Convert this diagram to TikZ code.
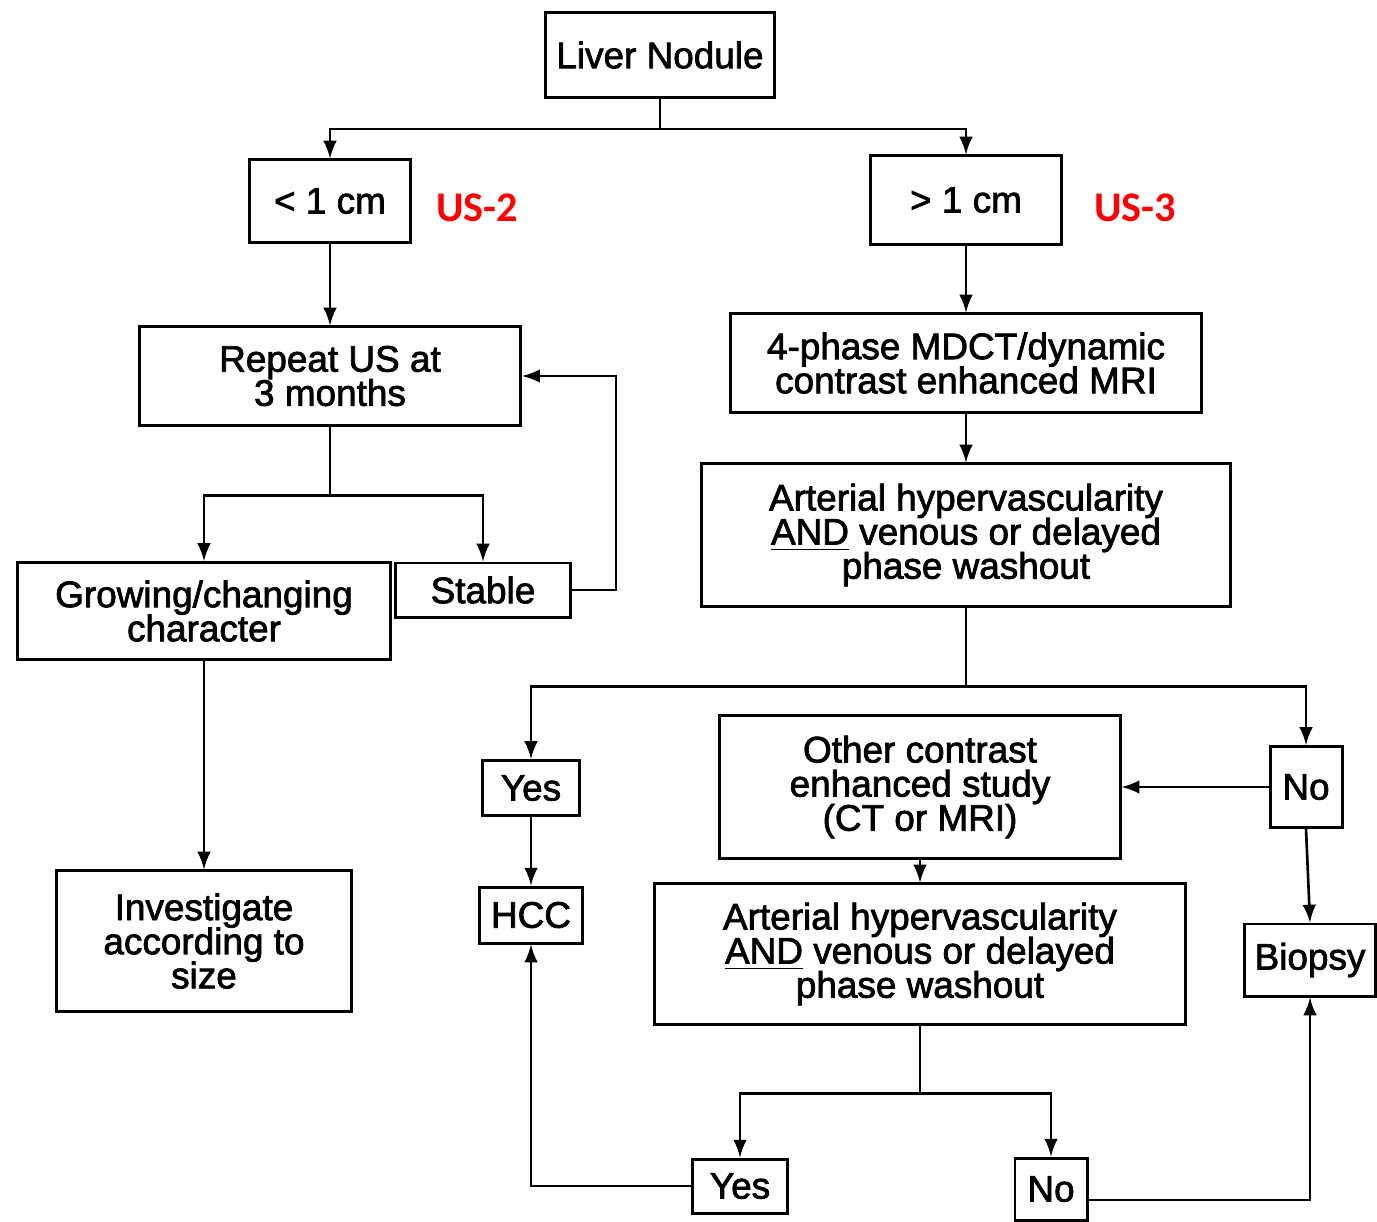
\documentclass[tikz,border=0pt]{standalone}
\usepackage{fontspec}
\setmainfont{Liberation Sans}
\newfontfamily\boxfont{Liberation Sans}[UprightFeatures={FakeBold=2}]
\newfontfamily\usfont{Carlito}
\usetikzlibrary{arrows}
\lineskiplimit=-5pt\relax

\begin{document}
\begin{tikzpicture}[x=0.01cm,y=-0.01cm,>=latex,line width=0.75pt,
  box/.style={draw,line width=0.85pt,align=center,inner sep=0pt,
    font={\boxfont\fontsize{10.5}{9.7}\selectfont}},
  uslabel/.style={text=red,font=\usfont\bfseries\fontsize{12}{14}\selectfont}]
\useasboundingbox (0,0) rectangle (1377,1221);
\node[box,minimum width=2.29cm,minimum height=0.85cm] (liver) at (660,55) {Liver Nodule};
\node[box,minimum width=1.60cm,minimum height=0.82cm] (small) at (330,201) {< 1 cm};
\node[box,minimum width=1.90cm,minimum height=0.88cm] (large) at (966,200) {> 1 cm};
\node[uslabel] (us2) at (477,208) {US-2};
\node[uslabel] (us3) at (1135,208) {US-3};
\node[box,minimum width=3.81cm,minimum height=0.98cm] (repeat) at (330,376) {Repeat US at\\3 months};
\node[box,minimum width=1.75cm,minimum height=0.54cm] (stable) at (483,590) {Stable};
\node[box,minimum width=3.73cm,minimum height=0.97cm] (growing) at (204,611) {Growing/changing\\character};
\node[box,minimum width=2.94cm,minimum height=1.40cm] (investigate) at (204,941) {Investigate\\according to\\size};
\node[box,minimum width=4.71cm,minimum height=0.98cm] (mdct) at (966,363) {4-phase MDCT/dynamic\\contrast enhanced MRI};
\node[box,minimum width=5.28cm,minimum height=1.42cm] (arterial1) at (966,535) {Arterial hypervascularity\\\underline{AND} venous or delayed\\phase washout};
\node[box,minimum width=0.96cm,minimum height=0.55cm] (yes1) at (531,788) {Yes};
\node[box,minimum width=1.03cm,minimum height=0.56cm] (hcc) at (531,915) {HCC};
\node[box,minimum width=4.00cm,minimum height=1.42cm] (other) at (920,787) {Other contrast\\enhanced study\\(CT or MRI)};
\node[box,minimum width=0.72cm,minimum height=0.81cm] (no1) at (1306,787) {No};
\node[box,minimum width=1.30cm,minimum height=0.72cm] (biopsy) at (1310,960) {Biopsy};
\node[box,minimum width=5.31cm,minimum height=1.40cm] (arterial2) at (920,954) {Arterial hypervascularity\\\underline{AND} venous or delayed\\phase washout};
\node[box,minimum width=0.95cm,minimum height=0.54cm] (yes2) at (740,1186) {Yes};
\node[box,minimum width=0.72cm,minimum height=0.62cm] (no2) at (1051,1189) {No};

\draw[->] (liver.south) -- ++(0,30) -| (small.north);
\draw[->] (liver.south) -- ++(0,30) -| (large.north);
\draw[->] (small) -- (repeat);
\draw[->] (repeat.south) -- ++(0,69) -| (growing.north);
\draw[->] (repeat.south) -- ++(0,69) -| (stable.north);
\draw[->] (stable.east) -- ++(44,0) |- (repeat.east);
\draw[->] (growing) -- (investigate);
\draw[->] (large) -- (mdct);
\draw[->] (mdct) -- (arterial1);
\draw[->] (arterial1.south) -- ++(0,79) -| (yes1.north);
\draw[->] (arterial1.south) -- ++(0,79) -| (no1.north);
\draw[->] (no1) -- (other);
\draw[->] (no1.south) -- (biopsy.north);
\draw[->] (yes1) -- (hcc);
\draw[->] (other) -- (arterial2);
\draw[->] (arterial2.south) -- ++(0,68) -| (yes2.north);
\draw[->] (arterial2.south) -- ++(0,68) -| (no2.north);
\draw[->] (yes2.west) -| (hcc.south);
\draw[->] ([yshift=-0.11cm]no2.east) -| (biopsy.south);
\end{tikzpicture}
\end{document}
